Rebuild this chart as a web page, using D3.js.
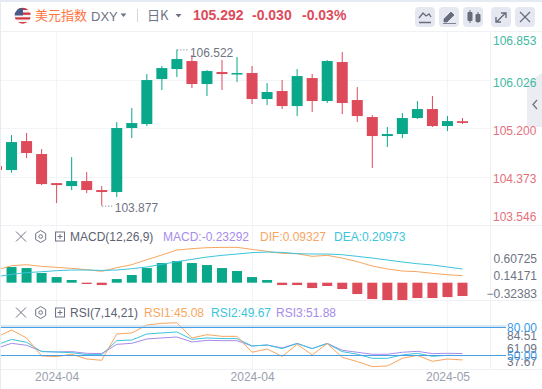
<!DOCTYPE html>
<html>
<head>
<meta charset="utf-8">
<script src="https://cdn.jsdelivr.net/npm/d3@7"></script>
<style>
    html, body { margin: 0; padding: 0; background: #fff; overflow: hidden; }
    text { font-family: "Liberation Sans", Arial, sans-serif; }
</style>
</head>
<body>
<div id="chart"></div>
<script>
// Candles, the first one is cut by the left edge
var opens = [104.554, 104.486, 104.982, 104.760, 104.263, 104.212, 104.298, 104.144, 104.110, 105.205, 105.273, 106.043, 106.214, 106.351, 105.958, 106.163, 106.129, 106.146, 105.701, 105.838, 105.581, 106.060, 105.667, 106.334, 105.684, 105.393, 105.068, 105.102, 105.376, 105.530, 105.239, 105.322];
var highs = [104.600, 105.085, 105.119, 104.845, 104.263, 104.708, 104.452, 104.212, 105.307, 105.547, 106.129, 106.266, 106.550, 106.454, 106.197, 106.368, 106.420, 106.266, 105.975, 106.026, 106.214, 106.129, 106.368, 106.505, 105.906, 105.427, 105.222, 105.461, 105.667, 105.752, 105.410, 105.376];
var lows = [104.450, 104.440, 104.691, 104.229, 103.921, 104.144, 104.092, 103.877, 104.024, 105.033, 105.239, 105.855, 106.077, 105.889, 105.752, 105.855, 105.992, 105.615, 105.598, 105.530, 105.410, 105.478, 105.633, 105.444, 105.307, 104.520, 104.880, 105.033, 105.359, 105.222, 105.153, 105.273];
var closes = [104.486, 104.965, 104.777, 104.246, 104.229, 104.298, 104.144, 104.110, 105.205, 105.290, 106.026, 106.231, 106.385, 105.958, 106.180, 106.129, 106.146, 105.701, 105.821, 105.581, 106.094, 105.667, 106.351, 105.633, 105.410, 105.068, 105.102, 105.376, 105.530, 105.239, 105.324, 105.292];
var priceTicks = [106.853, 106.026, 105.200, 104.373, 103.546];

// MACD
var macdHist = [0, 0.275, 0.257, 0.170, 0.099, 0.047, -0.023, -0.041, 0.064, 0.135, 0.257, 0.345, 0.380, 0.345, 0.310, 0.257, 0.205, 0.099, 0.047, -0.041, -0.041, -0.094, -0.058, -0.111, -0.199, -0.287, -0.304, -0.304, -0.269, -0.269, -0.252, -0.233];
var dif = [0.222, 0.298, 0.316, 0.287, 0.269, 0.252, 0.228, 0.199, 0.263, 0.316, 0.404, 0.486, 0.573, 0.597, 0.614, 0.620, 0.620, 0.585, 0.550, 0.515, 0.509, 0.462, 0.480, 0.433, 0.369, 0.293, 0.240, 0.205, 0.193, 0.164, 0.140, 0.123];
var dea = [0.105, 0.146, 0.176, 0.193, 0.211, 0.222, 0.222, 0.216, 0.222, 0.246, 0.275, 0.322, 0.369, 0.410, 0.450, 0.480, 0.503, 0.527, 0.538, 0.532, 0.509, 0.503, 0.503, 0.491, 0.462, 0.433, 0.398, 0.363, 0.333, 0.310, 0.275, 0.240];
var macdTicks = [0.60725, 0.14171, -0.32383];

// RSI
var rsi1 = [69.1, 76.8, 68.4, 49.3, 48.6, 51.1, 46.1, 44.7, 72.6, 73.7, 82.1, 83.9, 84.5, 68.4, 71.9, 70.1, 70.1, 53.2, 56.7, 48.9, 61.6, 50.4, 62.4, 47.9, 43.3, 38.0, 38.7, 46.8, 50.0, 43.6, 46.1, 45.08];
var rsi2 = [60.9, 66.9, 63.8, 53.9, 53.5, 52.8, 50.7, 50.7, 65.5, 66.2, 72.6, 73.7, 74.7, 66.9, 68.4, 67.7, 67.7, 59.9, 60.9, 57.1, 62.4, 57.1, 62.4, 53.9, 51.1, 46.8, 46.8, 50.4, 52.1, 48.9, 50.0, 49.67];
var rsi3 = [57.4, 62.7, 60.6, 54.2, 53.5, 53.9, 52.1, 51.8, 61.6, 62.7, 67.3, 68.4, 69.4, 64.1, 65.9, 65.5, 65.5, 59.9, 60.9, 57.8, 62.7, 57.1, 62.7, 55.3, 53.2, 51.1, 51.1, 53.2, 54.2, 51.8, 52.1, 51.88];
var rsiTicks = [84.51, 61.09, 37.67];
var rsiLevels = [80, 50];

// Date axis: candle index and label
var dateIndex = [4, 17, 30];
var dateLabels = ["2024-04", "2024-04", "2024-05"];

var width = 542, height = 389;
var axisX = 490;
var green = "#0aa88a", red = "#dd4b5b", orange = "#f7a65f", cyan = "#3cc4dc", purple = "#a78bea", blue = "#4a9fe3";
var gridColor = "#f3f4f8", grey = "#6e7483";

var svg = d3.select("#chart").append("svg")
    .attr("width", width)
    .attr("height", height)
    .style("display", "block");

svg.append("defs").append("clipPath").attr("id", "plot")
    .append("rect").attr("x", 1).attr("y", 31).attr("width", axisX - 1).attr("height", 338);
svg.select("defs").append("clipPath").attr("id", "flag")
    .append("circle").attr("cx", 22.7).attr("cy", 15.7).attr("r", 8);

var xScale = d3.scaleLinear().domain([0, 31]).range([-3.5, 461.5 + 1]);
var yPrice = d3.scaleLinear().domain([106.853, 103.546]).range([31.7, 225]);
var yMacd = d3.scaleLinear().domain([0, 1]).range([282.7, 225.7]);
var yRsi = d3.scaleLinear().domain([50, 80]).range([355.3, 327]);
// the printed MACD and RSI tick labels do not sit on the scale of the lines
var yMacdLabel = d3.scaleLinear().domain([0.60725, -0.32383]).range([258, 292.8]);
var yRsiLabel = d3.scaleLinear().domain([84.51, 37.67]).range([335, 361.2]);

// Background and grid
var grid = svg.append("g");
priceTicks.slice(1, 4).forEach(function(t) {
    grid.append("line").attr("x1", 1).attr("x2", axisX)
        .attr("y1", Math.round(yPrice(t)) + 0.5).attr("y2", Math.round(yPrice(t)) + 0.5)
        .attr("stroke", gridColor);
});
dateIndex.forEach(function(i) {
    grid.append("line").attr("x1", Math.floor(xScale(i)) + 0.5).attr("x2", Math.floor(xScale(i)) + 0.5)
        .attr("y1", 31).attr("y2", 369)
        .attr("stroke", gridColor);
});
[31, 225, 300, 369].forEach(function(y) {
    grid.append("line").attr("x1", 1).attr("x2", width)
        .attr("y1", y + 0.5).attr("y2", y + 0.5)
        .attr("stroke", "#f0f1f5");
});
grid.append("line").attr("x1", axisX + 0.5).attr("x2", axisX + 0.5).attr("y1", 31).attr("y2", 369).attr("stroke", "#f0f1f5");
svg.append("rect").attr("x", 0).attr("y", 0).attr("width", width).attr("height", 2).attr("fill", "#e6eaf2");
svg.append("rect").attr("x", 0).attr("y", 0).attr("width", 1).attr("height", height).attr("fill", "#e6eaf2");

// Side handle, the price labels run over it
svg.append("path").attr("d", "M542,73L527,83V127H542Z").attr("fill", "#ecedf3");
svg.append("path").attr("d", "M537,100l-4,4.5l4,4.5").attr("fill", "none").attr("stroke", "#6e7483").attr("stroke-width", 1.3);

var plot = svg.append("g").attr("clip-path", "url(#plot)");

// Candles
var candles = plot.selectAll(".candle").data(d3.range(opens.length)).enter()
    .append("g").attr("class", "candle")
    .attr("fill", function(i) { return closes[i] >= opens[i] ? green : red; });
candles.append("rect")
    .attr("x", function(i) { return xScale(i) - 0.5; })
    .attr("width", 1)
    .attr("y", function(i) { return yPrice(highs[i]); })
    .attr("height", function(i) { return yPrice(lows[i]) - yPrice(highs[i]); });
candles.append("rect")
    .attr("x", function(i) { return xScale(i) - 5.5; })
    .attr("width", 11)
    .attr("y", function(i) { return yPrice(Math.max(opens[i], closes[i])); })
    .attr("height", function(i) { return Math.max(1.5, Math.abs(yPrice(opens[i]) - yPrice(closes[i]))); });

// High / low notes
function extremeNote(i, value, label, labelOffset) {
    var px = xScale(i) + 0.5, py = yPrice(value);
    svg.append("line").attr("x1", px).attr("x2", px + 11).attr("y1", py + 0.5).attr("y2", py + 0.5)
        .attr("stroke", grey).attr("stroke-dasharray", "1,2");
    svg.append("text").attr("x", px + 12.5).attr("y", py + labelOffset)
        .attr("font-size", 12).attr("fill", grey).text(label);
}
extremeNote(12, 106.55, "106.522", 8);
extremeNote(7, 103.877, "103.877", 6.5);

// MACD
plot.selectAll(".hist").data(macdHist).enter().append("rect")
    .attr("class", "hist")
    .attr("x", function(d, i) { return xScale(i) - 5; })
    .attr("width", 10)
    .attr("y", function(d) { return d >= 0 ? yMacd(d) : yMacd(0); })
    .attr("height", function(d) { return Math.abs(yMacd(d) - yMacd(0)); })
    .attr("fill", function(d) { return d >= 0 ? green : red; });

function drawLine(values, scale, color) {
    var line = d3.line()
        .x(function(d, i) { return xScale(i); })
        .y(function(d) { return scale(d); });
    plot.append("path").datum(values)
        .attr("d", line)
        .attr("fill", "none")
        .attr("stroke", color)
        .attr("stroke-width", 1);
}
drawLine(dif, yMacd, orange);
drawLine(dea, yMacd, cyan);

// RSI
svg.append("line").attr("x1", 1).attr("x2", 506).attr("y1", 326).attr("y2", 326).attr("stroke", "#a9d2f2");
rsiLevels.forEach(function(level) {
    svg.append("line").attr("x1", 1).attr("x2", 506)
        .attr("y1", Math.round(yRsi(level)) + 0.5).attr("y2", Math.round(yRsi(level)) + 0.5)
        .attr("stroke", blue);
});
drawLine(rsi3, yRsi, purple);
drawLine(rsi2, yRsi, cyan);
drawLine(rsi1, yRsi, orange);

// Right axes
var priceAxis = svg.append("g")
    .attr("transform", "translate(" + 493 + ",0)")
    .call(d3.axisRight(yPrice).tickValues(priceTicks).tickSize(0).tickPadding(0).tickFormat(d3.format(".3f")));
priceAxis.select(".domain").remove();
priceAxis.selectAll("text")
    .attr("font-size", 12)
    .attr("font-family", null)
    .attr("fill", function(d) { return d > 105.5 ? "#3fb9a2" : "#e56f7c"; })
    .attr("dy", function(d, i) { return i === 0 ? "12.5" : (i === 4 ? "-5" : "6"); });

function sideLabels(ticks, scale, format, color) {
    var axis = svg.append("g")
        .attr("transform", "translate(" + 537 + ",0)")
        .call(d3.axisLeft(scale).tickValues(ticks).tickSize(0).tickPadding(0).tickFormat(format));
    axis.select(".domain").remove();
    axis.selectAll("text")
        .attr("font-size", 12)
        .attr("font-family", null)
        .attr("fill", color)
        .attr("dy", "4.5");
}
sideLabels(macdTicks, yMacdLabel, d3.format(".5f"), grey);
sideLabels(rsiTicks, yRsiLabel, d3.format(".2f"), grey);
sideLabels(rsiLevels, yRsi, d3.format(".2f"), "#3a9be8");

// Date axis
var dateAxis = svg.append("g")
    .attr("transform", "translate(0,369)")
    .call(d3.axisBottom(xScale).tickValues(dateIndex).tickSize(0).tickPadding(3)
        .tickFormat(function(d, i) { return dateLabels[i]; }));
dateAxis.select(".domain").remove();
dateAxis.selectAll("text").attr("font-size", 12).attr("font-family", null).attr("fill", "#9aa0ad");

// Header
var flag = svg.append("g").attr("clip-path", "url(#flag)");
d3.range(7).forEach(function(k) {
    flag.append("rect").attr("x", 14).attr("y", 7.7 + k * 2.4).attr("width", 18).attr("height", 2.4)
        .attr("fill", k % 2 === 0 ? "#d0343f" : "#f6f2f2");
});
flag.append("rect").attr("x", 14).attr("y", 7).attr("width", 9).attr("height", 8.5).attr("fill", "#4a5a86");

function label(x, y, string, color, size, weight) {
    return svg.append("text").attr("x", x).attr("y", y)
        .attr("font-size", size).attr("fill", color).attr("font-weight", weight || "normal")
        .text(string);
}
label(35, 19.5, "美元指数", "#ff7440", 13).style("font-family", "'Noto Sans CJK SC'");
label(91, 20.5, "DXY", "#6e7483", 13);
label(147, 19.5, "日K", "#6e7483", 13).style("font-family", "'Noto Sans CJK SC'");
label(193, 19.5, "105.292", red, 14, "bold");
label(252, 19.5, "-0.030", red, 14, "bold");
label(302, 19.5, "-0.03%", red, 14, "bold");

function caret(x, y) {
    svg.append("path").attr("d", "M" + (x - 3) + "," + (y - 2) + "h6l-3,3.5z").attr("fill", "#6e7483");
}
caret(123.5, 15.5);
caret(178.5, 16);
svg.append("line").attr("x1", 137.5).attr("x2", 137.5).attr("y1", 9).attr("y2", 22).attr("stroke", "#d5d8e0");

// Toolbar buttons
var buttons = [415, 439, 463, 491, 515];
svg.selectAll(".btn").data(buttons).enter().append("rect")
    .attr("class", "btn")
    .attr("x", function(d) { return d; }).attr("y", 7)
    .attr("width", 20).attr("height", 20).attr("rx", 4)
    .attr("fill", "#e5e8f0");
var iconColor = "#666c7b";
svg.append("path").attr("d", "M419,18l4,-5l3,3l3,-2l2,3M419,22.5h12").attr("fill", "none").attr("stroke", iconColor).attr("stroke-width", 1.3);
svg.append("path").attr("d", "M444,19l7,-7l3,3l-7,7h-3zM443,23.5h13").attr("fill", iconColor).attr("stroke", iconColor).attr("stroke-width", 0.8);
svg.append("path").attr("d", "M468,12.5h4v8h-4zM476,14.5h4v7h-4zM470,10v13M478,12v11").attr("fill", iconColor).attr("stroke", iconColor);
svg.append("path").attr("d", "M497,21.5l8,-8M501,13h5v5M496,17v5h5").attr("fill", "none").attr("stroke", iconColor).attr("stroke-width", 1.4);
svg.append("path").attr("d", "M520,12l10,10M530,12l-10,10").attr("fill", "none").attr("stroke", iconColor).attr("stroke-width", 1.2);

// Indicator headers
function paneHeader(y, title) {
    svg.append("path").attr("d", "M16," + (y - 5) + "l10,10M26," + (y - 5) + "l-10,10").attr("stroke", grey).attr("fill", "none");
    svg.append("path").attr("d", "M40.7," + (y - 6) + "l5,3v6l-5,3l-5,-3v-6z").attr("stroke", grey).attr("fill", "none");
    svg.append("circle").attr("cx", 40.7).attr("cy", y).attr("r", 1.8).attr("stroke", grey).attr("fill", "none");
    svg.append("rect").attr("x", 55.5).attr("y", y - 4.5).attr("width", 9).attr("height", 9).attr("stroke", grey).attr("fill", "none");
    svg.append("path").attr("d", "M57.5," + y + "h5M60," + (y - 2.5) + "v5").attr("stroke", grey).attr("fill", "none");
    label(70, y + 4.5, title, "#5c6270", 12);
}
paneHeader(236.5, "MACD(12,26,9)");
label(163, 241, "MACD:-0.23292", purple, 12);
label(260, 241, "DIF:0.09327", orange, 12);
label(334, 241, "DEA:0.20973", cyan, 12);

paneHeader(312.5, "RSI(7,14,21)");
label(144, 317, "RSI1:45.08", orange, 12);
label(211, 317, "RSI2:49.67", cyan, 12);
label(276, 317, "RSI3:51.88", purple, 12);
</script>
</body>
</html>
